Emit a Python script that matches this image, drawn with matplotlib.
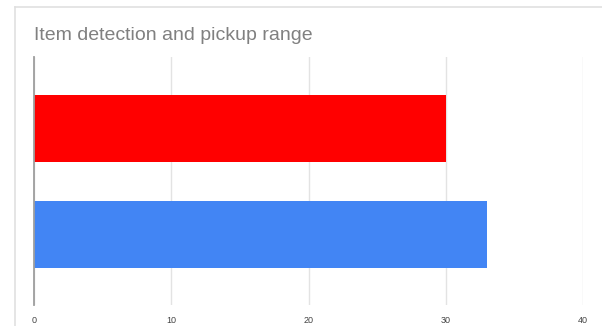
import matplotlib as mpl
mpl.use('Agg')

import matplotlib.pyplot as plt
from matplotlib.lines import Line2D

# dados do gráfico
categorias = ['Detecção', 'Coleta']
valores = [30, 33]
cores = ['#ff0000', '#4285f4']
ticks_x = [0, 10, 20, 30, 40]

plt.rcParams['font.family'] = ['Liberation Sans', 'DejaVu Sans']

W, H = 602, 326
fig = plt.figure(figsize=(W / 100, H / 100), dpi=100)
fig.patch.set_facecolor('white')

# moldura clara do cartão (borda esquerda e superior)
fig.add_artist(Line2D([14.5 / W, 14.5 / W], [0, 1 - 7 / H], color='#e0e0e0', lw=1.2))
fig.add_artist(Line2D([14.5 / W, 1], [1 - 7 / H, 1 - 7 / H], color='#e0e0e0', lw=1.2))

ax = fig.add_axes([34 / W, 21 / H, (583 - 34) / W, (305 - 57) / H])

pos = list(range(len(categorias)))
ax.barh(pos, valores, height=0.63, color=cores, zorder=3)

ax.set_xlim(0, 40)
ax.set_ylim(1.665, -0.675)
ax.set_xticks(ticks_x)
ax.set_xticklabels([str(t) for t in ticks_x], fontsize=6.5, color='#444444')
ax.set_yticks([])
ax.tick_params(axis='x', length=0, pad=8)
ax.grid(axis='x', color='#e3e3e3', lw=1, zorder=0)

for lado in ['top', 'right', 'bottom']:
    ax.spines[lado].set_visible(False)
ax.spines['left'].set_color('#9e9e9e')
ax.spines['left'].set_linewidth(1.3)
ax.spines['left'].set_zorder(4)

fig.text(34 / W, 1 - 36 / H, 'Item detection and pickup range', fontsize=14,
         color='#808080', va='center', ha='left')

plt.savefig('out.png', dpi=100)
plt.close(fig)
